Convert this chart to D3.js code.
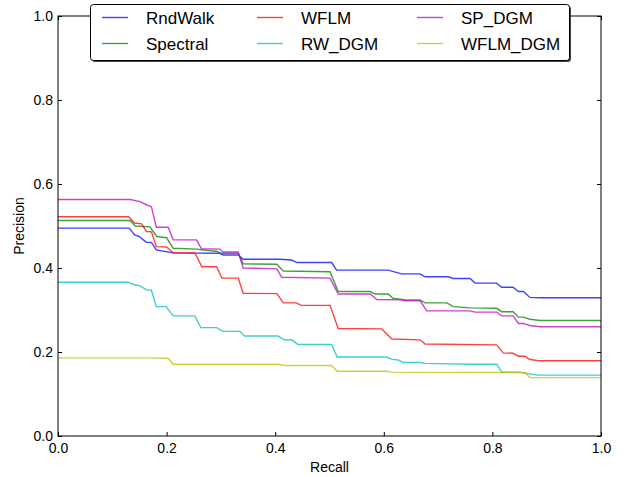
<!DOCTYPE html>
<meta charset="utf-8">
<script src="https://d3js.org/d3.v7.min.js"></script>
<style>
body { margin: 0; background: #fff; }
svg { font-family: "Liberation Sans", Arial, sans-serif; }
.tick text { font-size: 14px; fill: #000; }
.tick line { stroke: #000; }
</style>
<div id="main"></div>
<script>

// recall / precision values
const rndWalkR = [0, 0.131, 0.141, 0.150, 0.157, 0.163, 0.172, 0.181, 0.212, 0.298, 0.304, 0.332, 0.341, 0.409, 0.430, 0.440, 0.504, 0.513, 0.608, 0.633, 0.667, 0.676, 0.719, 0.728, 0.759, 0.768, 0.808, 0.817, 0.838, 0.848, 0.857, 0.869, 0.888, 1.0];
const rndWalkP = [0.495, 0.495, 0.479, 0.475, 0.467, 0.461, 0.461, 0.443, 0.436, 0.435, 0.431, 0.431, 0.421, 0.421, 0.419, 0.413, 0.413, 0.395, 0.395, 0.386, 0.386, 0.379, 0.379, 0.375, 0.375, 0.364, 0.364, 0.354, 0.354, 0.344, 0.344, 0.330, 0.329, 0.329];

const spectralR = [0, 0.133, 0.142, 0.169, 0.182, 0.200, 0.212, 0.255, 0.268, 0.292, 0.301, 0.332, 0.341, 0.403, 0.415, 0.501, 0.516, 0.575, 0.584, 0.608, 0.617, 0.630, 0.639, 0.667, 0.676, 0.716, 0.728, 0.759, 0.808, 0.817, 0.838, 0.848, 0.857, 0.869, 0.888, 1.0];
const spectralP = [0.513, 0.513, 0.500, 0.498, 0.475, 0.472, 0.447, 0.445, 0.443, 0.440, 0.435, 0.435, 0.410, 0.409, 0.393, 0.391, 0.344, 0.344, 0.338, 0.338, 0.328, 0.326, 0.324, 0.324, 0.317, 0.317, 0.308, 0.305, 0.304, 0.296, 0.296, 0.283, 0.283, 0.278, 0.275, 0.275];

const wflmR = [0, 0.130, 0.141, 0.154, 0.163, 0.172, 0.181, 0.200, 0.212, 0.252, 0.265, 0.292, 0.302, 0.332, 0.341, 0.403, 0.415, 0.439, 0.448, 0.501, 0.516, 0.596, 0.615, 0.667, 0.676, 0.808, 0.820, 0.838, 0.848, 0.860, 0.869, 0.888, 1.0];
const wflmP = [0.522, 0.522, 0.507, 0.505, 0.487, 0.486, 0.451, 0.450, 0.436, 0.436, 0.403, 0.403, 0.376, 0.376, 0.340, 0.339, 0.317, 0.317, 0.311, 0.311, 0.256, 0.255, 0.231, 0.229, 0.219, 0.217, 0.198, 0.197, 0.190, 0.190, 0.182, 0.179, 0.179];

const rwDgmR = [0, 0.129, 0.141, 0.150, 0.163, 0.172, 0.181, 0.199, 0.212, 0.252, 0.263, 0.292, 0.304, 0.335, 0.344, 0.405, 0.417, 0.430, 0.442, 0.504, 0.514, 0.605, 0.614, 0.626, 0.636, 0.667, 0.676, 0.759, 0.808, 0.817, 0.851, 0.860, 0.869, 0.884, 1.0];
const rwDgmP = [0.366, 0.366, 0.360, 0.358, 0.348, 0.347, 0.308, 0.308, 0.286, 0.286, 0.258, 0.258, 0.249, 0.249, 0.238, 0.238, 0.229, 0.229, 0.218, 0.218, 0.188, 0.188, 0.183, 0.181, 0.175, 0.175, 0.173, 0.171, 0.171, 0.152, 0.152, 0.150, 0.148, 0.145, 0.145];

const spDgmR = [0, 0.133, 0.151, 0.164, 0.172, 0.181, 0.203, 0.212, 0.255, 0.264, 0.298, 0.304, 0.332, 0.341, 0.403, 0.412, 0.501, 0.516, 0.575, 0.587, 0.630, 0.639, 0.667, 0.679, 0.759, 0.768, 0.808, 0.817, 0.838, 0.848, 0.857, 0.869, 0.888, 1.0];
const spDgmP = [0.563, 0.563, 0.558, 0.550, 0.546, 0.497, 0.497, 0.467, 0.467, 0.446, 0.445, 0.438, 0.438, 0.400, 0.398, 0.378, 0.376, 0.338, 0.338, 0.325, 0.324, 0.322, 0.322, 0.298, 0.298, 0.295, 0.295, 0.286, 0.286, 0.268, 0.268, 0.263, 0.260, 0.260];

const wflmDgmR = [0, 0.172, 0.203, 0.212, 0.405, 0.417, 0.504, 0.514, 0.605, 0.614, 0.851, 0.860, 0.869, 1.0];
const wflmDgmP = [0.186, 0.186, 0.185, 0.171, 0.171, 0.168, 0.168, 0.154, 0.154, 0.152, 0.151, 0.150, 0.139, 0.139];

const names = ["RndWalk", "Spectral", "WFLM", "RW_DGM", "SP_DGM", "WFLM_DGM"];
const colors = ["#0000ff", "#008000", "#ff0000", "#00bfbf", "#bf00bf", "#bfbf00"];
const recalls = [rndWalkR, spectralR, wflmR, rwDgmR, spDgmR, wflmDgmR];
const precisions = [rndWalkP, spectralP, wflmP, rwDgmP, spDgmP, wflmDgmP];

const margin = {top: 16, right: 26, bottom: 41, left: 58},
    width = 627 - margin.left - margin.right,
    height = 477 - margin.top - margin.bottom;

const svg = d3.select("#main").append("svg")
    .attr("width", 627)
    .attr("height", 477);

const g = svg.append("g")
    .attr("transform", "translate(" + margin.left + "," + margin.top + ")");

const x = d3.scaleLinear().domain([0, 1]).range([0, width]);
const y = d3.scaleLinear().domain([0, 1]).range([height, 0]);
const fmt = d3.format(".1f");

// axes, ticks pointing inward on all four sides
g.append("g")
    .attr("transform", "translate(0," + height + ")")
    .call(d3.axisBottom(x).ticks(5).tickFormat(fmt).tickSizeInner(-4).tickSizeOuter(0).tickPadding(7));
g.append("g")
    .call(d3.axisLeft(y).ticks(5).tickFormat(fmt).tickSizeInner(-4).tickSizeOuter(0).tickPadding(5));
g.append("g")
    .attr("transform", "translate(" + width + ",0)")
    .call(d3.axisRight(y).ticks(5).tickFormat("").tickSizeInner(-4).tickSizeOuter(0));
g.append("g")
    .call(d3.axisTop(x).ticks(5).tickFormat("").tickSizeInner(-4).tickSizeOuter(0));
g.selectAll(".domain").remove();
g.selectAll(".tick text").attr("font-family", null).attr("font-size", null);

const line = d3.line()
    .x(function(d) { return x(d[0]); })
    .y(function(d) { return y(d[1]); });

names.forEach(function(name, i) {
  const pts = d3.zip(recalls[i], precisions[i]);
  g.append("path")
      .datum(pts)
      .attr("fill", "none")
      .attr("stroke", colors[i])
      .attr("stroke-opacity", 0.75)
      .attr("stroke-width", 1.4)
      .attr("d", line);
});

g.append("rect")
    .attr("width", width)
    .attr("height", height)
    .attr("fill", "none")
    .attr("stroke", "#000")
    .attr("stroke-width", 1);

// axis labels
svg.append("text")
    .attr("x", margin.left + width / 2)
    .attr("y", 472)
    .attr("text-anchor", "middle")
    .attr("font-size", 14)
    .text("Recall");
svg.append("text")
    .attr("transform", "translate(24," + (margin.top + height / 2) + ") rotate(-90)")
    .attr("text-anchor", "middle")
    .attr("font-size", 14)
    .text("Precision");

// legend
const legend = svg.append("g");
legend.append("rect")
    .attr("x", 92).attr("y", 6).attr("width", 479).attr("height", 56)
    .attr("rx", 3)
    .attr("fill", "#444");
legend.append("rect")
    .attr("x", 90.5).attr("y", 4.5).attr("width", 479).attr("height", 56)
    .attr("rx", 3)
    .attr("fill", "#fff")
    .attr("stroke", "#000");

const colX = [102, 257, 417],
    rowY = [17.5, 43.5];
names.forEach(function(name, i) {
  const cx = colX[Math.floor(i / 2)], cy = rowY[i % 2];
  legend.append("line")
      .attr("x1", cx).attr("x2", cx + 26)
      .attr("y1", cy).attr("y2", cy)
      .attr("stroke", colors[i])
      .attr("stroke-opacity", 0.75)
      .attr("stroke-width", 1.4);
  legend.append("text")
      .attr("x", cx + 44)
      .attr("y", cy)
      .attr("dy", "0.36em")
      .attr("font-size", 17)
      .text(name);
});

</script>
